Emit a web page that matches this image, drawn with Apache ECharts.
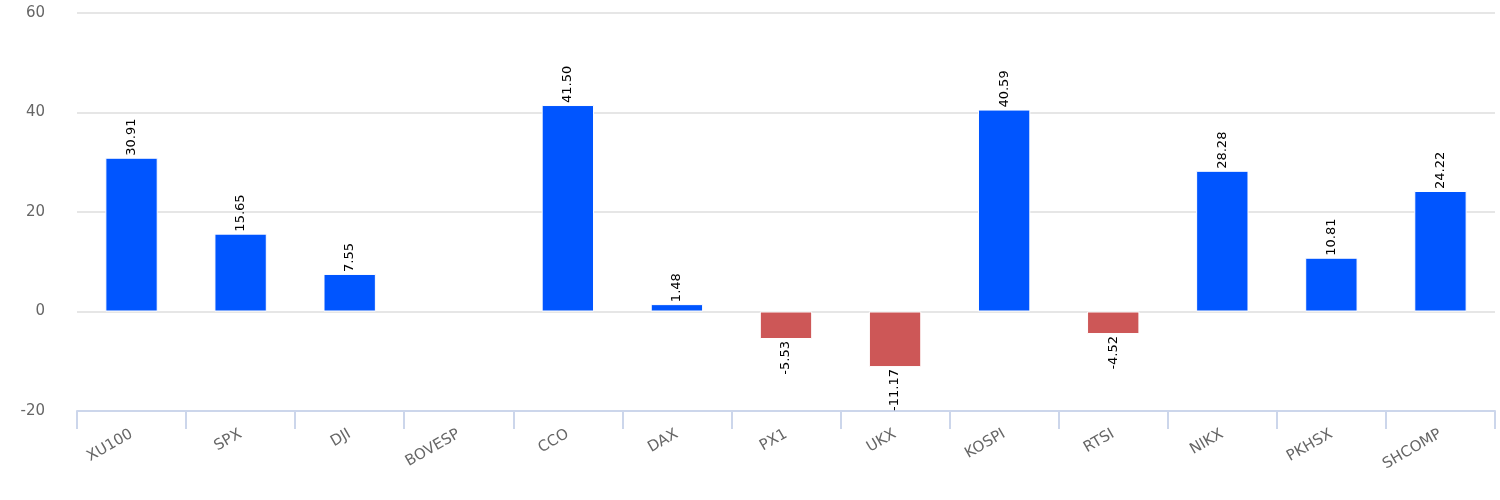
<!DOCTYPE HTML>
<html>
<head>
<meta charset="utf-8">
<title>Index returns</title>
<script src="https://cdn.jsdelivr.net/npm/echarts@6/dist/echarts.min.js"></script>
<style>
    body { margin: 0; padding: 0; }
    #graphic { width: 1500px; height: 500px; }
</style>
</head>
<body>
<div id="graphic"></div>
<script type="text/javascript">
var categories = ['XU100', 'SPX', 'DJI', 'BOVESP', 'CCO', 'DAX', 'PX1', 'UKX', 'KOSPI', 'RTSI', 'NIKX', 'PKHSX', 'SHCOMP'];
var values = [30.91, 15.65, 7.55, null, 41.50, 1.48, -5.53, -11.17, 40.59, -4.52, 28.28, 10.81, 24.22];
var yTicks = { min: -20, max: 60, interval: 20 };

var BLUE = '#0055ff', RED = '#cd5757';

var barData = values.map(function (v) {
    if (v === null) return null;
    return {
        value: v,
        itemStyle: { color: v < 0 ? RED : BLUE },
        label: { align: v < 0 ? 'right' : 'left' }
    };
});

var option = {
    animation: false,
    grid: { left: 77, right: 5, top: 13, bottom: 89 },
    xAxis: {
        type: 'category',
        data: categories,
        axisLine: { onZero: false, lineStyle: { color: '#ccd6eb', width: 2 } },
        axisTick: { show: true, alignWithLabel: false, length: 18, lineStyle: { color: '#ccd6eb', width: 2 } },
        axisLabel: {
            rotate: 30,
            margin: 22,
            color: '#666',
            fontSize: 15,
            fontFamily: 'DejaVu Sans'
        }
    },
    yAxis: {
        type: 'value',
        min: yTicks.min,
        max: yTicks.max,
        interval: yTicks.interval,
        axisLine: { show: false },
        axisTick: { show: false },
        splitLine: { lineStyle: { color: '#e6e6e6', width: 2 } },
        axisLabel: {
            margin: 32,
            color: '#666',
            fontSize: 15,
            fontFamily: 'DejaVu Sans'
        }
    },
    series: [{
        type: 'bar',
        data: barData,
        barWidth: '48%',
        itemStyle: { borderColor: '#fff', borderWidth: 1 },
        label: {
            show: true,
            position: 'outside',
            rotate: 90,
            distance: 2,
            verticalAlign: 'middle',
            color: '#000',
            fontSize: 13,
            fontFamily: 'DejaVu Sans',
            formatter: function (p) { return p.value.toFixed(2); }
        }
    }]
};

var myChart = echarts.init(document.getElementById('graphic'));
myChart.setOption(option);
</script>
</body>
</html>
